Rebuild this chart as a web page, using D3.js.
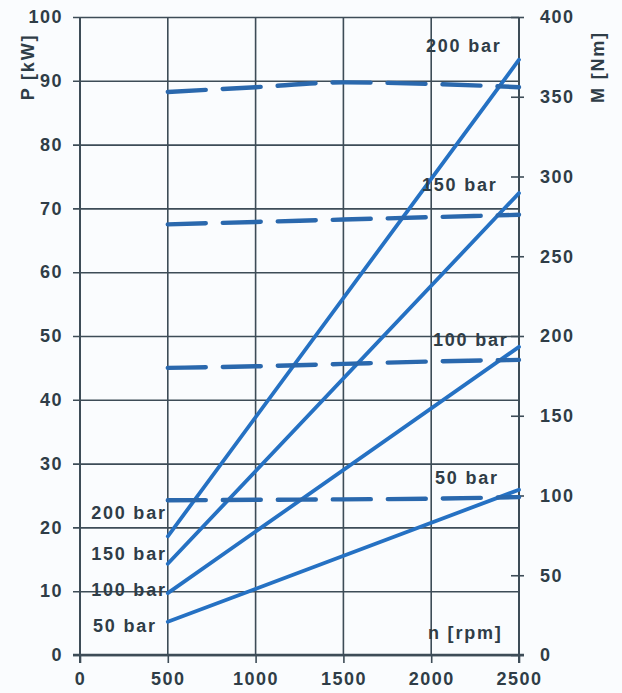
<!DOCTYPE html>
<html>
<head>
<meta charset="utf-8">
<script src="https://cdn.jsdelivr.net/npm/d3@7"></script>
<style>
  body { margin: 0; background: #fafcfe; }
  svg text { font-family: "Liberation Sans", Arial, sans-serif; font-weight: bold; fill: #2f3d47; }
</style>
</head>
<body>
<svg id="chart" width="622" height="693"></svg>
<script>
var rpmTicks = [0, 500, 1000, 1500, 2000, 2500];
var powerTicks = [0, 10, 20, 30, 40, 50, 60, 70, 80, 90, 100];
var torqueTicks = [0, 50, 100, 150, 200, 250, 300, 350, 400];

var pressures = ['200 bar', '150 bar', '100 bar', '50 bar'];

// power P [kW] at start and end speed
var powerRpm = [500, 2500];
var power200 = [18.6, 93.3];
var power150 = [14.3, 72.4];
var power100 = [9.7, 48.3];
var power50 = [5.2, 25.9];

// torque M [Nm]
var torqueRpm = [500, 1000, 1500, 2000, 2500];
var torque200 = [353, 356, 359, 358, 356];
var torque150 = [270, 271.5, 273, 274.5, 276];
var torque100 = [180, 181, 182.5, 184, 185];
var torque50 = [97, 97.3, 97.6, 98, 99];

var powerSeries = [power200, power150, power100, power50];
var torqueSeries = [torque200, torque150, torque100, torque50];

var gridColor = '#3d4c57';
var lineColor = '#2571c3';

var svg = d3.select('#chart');
var x = d3.scaleLinear().domain([0, 2500]).range([80, 519]);
var yP = d3.scaleLinear().domain([0, 100]).range([655, 17]);
var yM = d3.scaleLinear().domain([0, 400]).range([655, 17]);

function styleAxis(g) {
  g.select('.domain').remove();
  g.selectAll('.tick line').attr('stroke', gridColor).attr('stroke-width', 1.6);
  g.selectAll('.tick text')
    .attr('font-size', 18)
    .attr('letter-spacing', '1.5px')
    .attr('fill', '#2f3d47');
}

// left axis with horizontal grid
svg.append('g')
  .attr('transform', 'translate(73,0)')
  .call(d3.axisLeft(yP).tickValues(powerTicks).tickSize(-(x(2500) - 73)).tickPadding(10).tickFormat(d3.format('d')))
  .call(styleAxis)
  .call(g => g.selectAll('.tick text').attr('font-family', null));

// vertical grid
svg.append('g')
  .selectAll('line')
  .data(rpmTicks)
  .enter()
  .append('line')
  .attr('x1', d => x(d))
  .attr('x2', d => x(d))
  .attr('y1', yP(100))
  .attr('y2', yP(0))
  .attr('stroke', gridColor)
  .attr('stroke-width', 1.6);

// bottom axis
svg.append('g')
  .attr('transform', 'translate(0,' + yP(0) + ')')
  .call(d3.axisBottom(x).tickValues(rpmTicks).tickSize(8).tickPadding(9).tickFormat(d3.format('d')))
  .call(styleAxis);

// right axis
svg.append('g')
  .attr('transform', 'translate(511,0)')
  .call(d3.axisRight(yM).tickValues(torqueTicks).tickSize(13).tickPadding(16).tickFormat(d3.format('d')))
  .call(styleAxis);

// heavier frame lines
svg.append('line')
  .attr('x1', 73).attr('x2', x(2500) + 5)
  .attr('y1', yP(0)).attr('y2', yP(0))
  .attr('stroke', gridColor).attr('stroke-width', 2.4);
svg.append('line')
  .attr('x1', x(0)).attr('x2', x(0))
  .attr('y1', yP(100)).attr('y2', yP(0) + 8)
  .attr('stroke', gridColor).attr('stroke-width', 2);
svg.append('line')
  .attr('x1', x(2500)).attr('x2', x(2500))
  .attr('y1', yP(100)).attr('y2', yP(0) + 8)
  .attr('stroke', gridColor).attr('stroke-width', 2);

// power lines
var powerLine = d3.line()
  .x((d, i) => x(powerRpm[i]))
  .y(d => yP(d));
svg.append('g')
  .selectAll('path')
  .data(powerSeries)
  .enter()
  .append('path')
  .attr('d', powerLine)
  .attr('fill', 'none')
  .attr('stroke', lineColor)
  .attr('stroke-width', 3.8)
  .attr('stroke-linecap', 'round');

// torque lines (dashed)
var torqueLine = d3.line()
  .curve(d3.curveMonotoneX)
  .x((d, i) => x(torqueRpm[i]))
  .y(d => yM(d));
svg.append('g')
  .selectAll('path')
  .data(torqueSeries)
  .enter()
  .append('path')
  .attr('d', torqueLine)
  .attr('fill', 'none')
  .attr('stroke', '#2a68ad')
  .attr('stroke-width', 4.4)
  .attr('stroke-dasharray', '38,17')
  .attr('stroke-linecap', 'round');

function addText(txt, tx, ty, anchor, rotate) {
  var t = svg.append('text')
    .text(txt)
    .attr('font-size', 18)
    .attr('letter-spacing', '1.8px')
    .attr('text-anchor', anchor || 'start');
  if (rotate) {
    t.attr('transform', 'translate(' + tx + ',' + ty + ') rotate(-90)');
  } else {
    t.attr('x', tx).attr('y', ty);
  }
  return t;
}

// pressure labels near line ends
var rightLabelY = [52, 191, 346, 484];
var rightLabelX = [426, 422, 433, 435];
pressures.forEach(function (p, i) {
  addText(p, rightLabelX[i], rightLabelY[i]);
});
var leftLabelY = [519, 560, 596, 632];
pressures.forEach(function (p, i) {
  addText(p, x(500) - 1 - (i === 3 ? 10 : 0), leftLabelY[i], 'end');
});

addText('n [rpm]', 428, 639);
addText('P [kW]', 34, 67, 'middle', true);
addText('M [Nm]', 604, 67, 'middle', true);
</script>
</body>
</html>
